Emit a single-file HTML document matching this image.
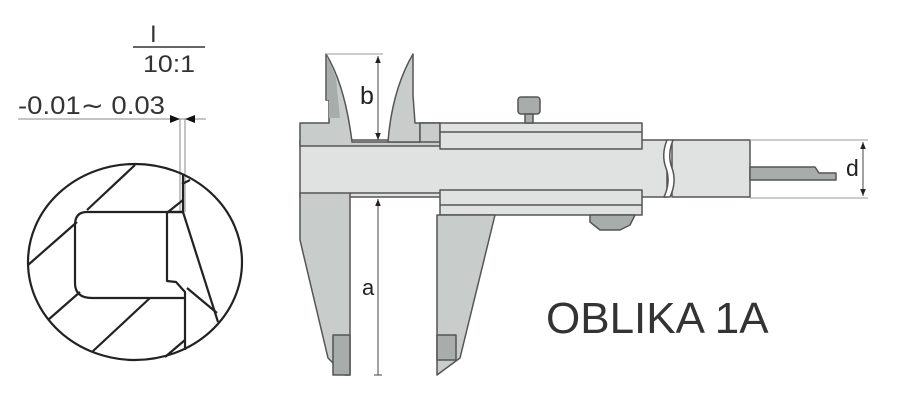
<!DOCTYPE html>
<html><head><style>
html,body{margin:0;padding:0;background:#fff;width:900px;height:405px;overflow:hidden}
svg{display:block}
text{font-family:"Liberation Sans",sans-serif}
</style></head><body>
<svg width="900" height="405" viewBox="0 0 900 405" xmlns="http://www.w3.org/2000/svg">
<defs>
<marker id="ar" viewBox="0 0 10 10" refX="10" refY="5" markerWidth="7" markerHeight="7" orient="auto-start-reverse"><path d="M0,1 L10,5 L0,9 z" fill="#222"/></marker>
</defs>
<!-- Detail -->
<text x="150" y="42" font-size="24" fill="#333">I</text>
<line x1="133" y1="47" x2="205" y2="47" stroke="#333" stroke-width="1.5"/>
<text x="143" y="72" font-size="24" fill="#333" textLength="52" lengthAdjust="spacingAndGlyphs">10:1</text>
<text x="18" y="114" font-size="25" fill="#333" textLength="147" lengthAdjust="spacingAndGlyphs">-0.01∼ 0.03</text>
<line x1="18" y1="119" x2="206" y2="119" stroke="#888" stroke-width="1"/>
<path d="M170,115 L180,119 L170,123 z M195,115 L185,119 L195,123 z" fill="#111"/>
<line x1="180" y1="119" x2="180" y2="212" stroke="#888" stroke-width="1"/>
<line x1="185" y1="119" x2="185" y2="212" stroke="#888" stroke-width="1"/>
<g fill="none" stroke="#222" stroke-width="2.2" stroke-linejoin="round">
<ellipse cx="135" cy="262" rx="107" ry="98"/>
<path d="M135,165 L87,210"/>
<path d="M77,222 L28,265"/>
<path d="M168,212 L183,200"/>
<path d="M182,184 L190,180"/>
<path d="M87,212 L183,212 M183,175 L183,212"/>
<path d="M183,212 L167,212 L167,281 L176,282 L185,292 L185,350"/>
<path d="M87,212 Q75,212 75,225 L75,283 Q75,298 92,298 L185,298"/>
<path d="M183,212 L218,322"/>
<path d="M187,288 L217,313"/>
<path d="M80,292 L48,320"/>
<path d="M150,298 L92,352"/>
<path d="M185,340 L165,357"/>
</g>
<!-- Caliper -->
<g stroke="#555" stroke-width="1.5" stroke-linejoin="round">
<rect x="300" y="140" width="367" height="57" fill="#dfe2e1"/>
<rect x="672" y="140" width="78" height="57" fill="#dfe2e1"/>
<path d="M667,140 L673,140 Q667,155 672,168 Q677,182 670,197 L664,197 Q671,182 666,168 Q661,155 667,140 z" fill="#fff" stroke="#555"/>
<path d="M300,123 L329,123 L329,100 L326,100 L326,54 Q345,85 352,142 L420,142 L420,123 L440,123 L440,146 L300,146 z" fill="#c8cccb"/>
<path d="M327,56 L336,78 L340,118 L329,118 L329,100 L327,100 z" fill="#a8adab" stroke="none"/>
<path d="M413,54 Q392,90 388,142 L420,142 L420,123 L415,123 L413,95 z" fill="#c8cccb"/>
<rect x="420" y="123" width="20" height="19" fill="#c8cccb"/>
<path d="M300,193 L350,193 L350,375 L345,375 L328,358 L300,240 z" fill="#c8cccb"/>
<rect x="333" y="335" width="17" height="40" fill="#a8adab"/>
<line x1="350" y1="193" x2="440" y2="193"/>
<rect x="440" y="123" width="202" height="26" fill="#dfe2e1"/>
<line x1="440" y1="132" x2="642" y2="132"/>
<rect x="440" y="190" width="202" height="25" fill="#dfe2e1"/>
<line x1="440" y1="205" x2="642" y2="205"/>
<path d="M437,215 L495,215 L460,358 L437,375 z" fill="#c8cccb"/>
<rect x="437" y="335" width="19" height="25" fill="#a8adab"/>
<path d="M590,215 L635,215 L630,225 L620,230 L600,230 L590,222 z" fill="#a8adab"/>
<rect x="518" y="97" width="22" height="17" rx="3" fill="#a8adab"/>
<rect x="525" y="114" width="8" height="9" fill="#a8adab"/>
<path d="M750,167 L815,167 L819,173 L836,173 L836,180 L750,180 z" fill="#a8adab"/>
</g>
<g stroke="#444" stroke-width="1" fill="none">
<line x1="326" y1="54" x2="383" y2="54" stroke="#999"/>
<line x1="378" y1="56" x2="378" y2="140" marker-start="url(#ar)" marker-end="url(#ar)"/>
<line x1="378" y1="199" x2="378" y2="375" marker-start="url(#ar)"/>
<path d="M374,375 L382,375"/>
<line x1="750" y1="140" x2="868" y2="140" stroke="#999"/>
<line x1="750" y1="198" x2="868" y2="198" stroke="#999"/>
<line x1="863" y1="142" x2="863" y2="196" marker-start="url(#ar)" marker-end="url(#ar)"/>
</g>
<text x="360" y="104" font-size="25" fill="#222">b</text>
<text x="362" y="295" font-size="22" fill="#222">a</text>
<text x="846" y="176" font-size="23" fill="#222">d</text>
<text x="546" y="333" font-size="44" fill="#333">OBLIKA 1A</text>
</svg>
</body></html>
